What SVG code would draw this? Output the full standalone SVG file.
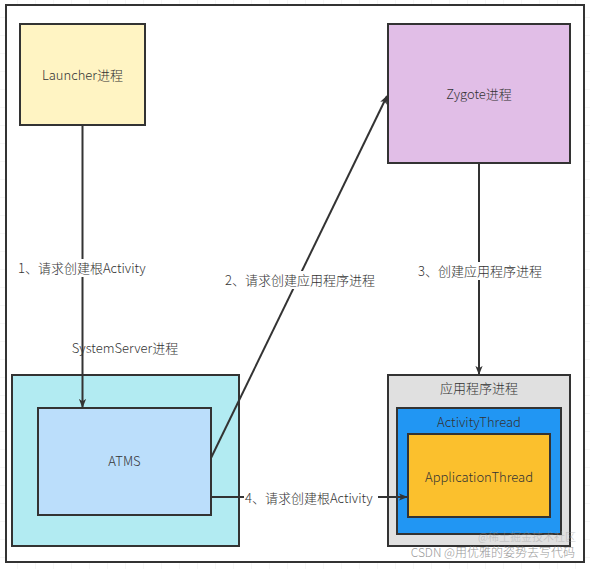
<svg xmlns="http://www.w3.org/2000/svg" width="590" height="569" viewBox="0 0 590 569">
<style>
  text { font-family: "Microsoft YaHei", "Noto Sans CJK SC", "Liberation Sans", sans-serif; font-size: 13px; fill: #333; font-weight: 300; }
  .box { stroke: #333; stroke-width: 2; }
  .edge { stroke: #333; stroke-width: 2; fill: none; }
  .lbl { text-anchor: middle; dominant-baseline: central; }
  .bg { fill: #fff; }
  .wm { fill: #999; font-size: 12px; text-anchor: end; }
</style>
<defs>
  <marker id="arr" viewBox="0 0 10 10" refX="9" refY="5" markerWidth="9" markerHeight="9" markerUnits="userSpaceOnUse" orient="auto">
    <path d="M0,1 L10,5 L0,9 L2.5,5 Z" fill="#333"/>
  </marker>
  <pattern id="grid" width="18" height="18" patternUnits="userSpaceOnUse">
    <path d="M18 0 V18 M0 18 H18" stroke="#ececec" stroke-width="1" fill="none"/>
  </pattern>
</defs>
<rect width="590" height="569" fill="#fff"/>
<rect width="590" height="569" fill="url(#grid)"/>
<rect x="6" y="5" width="578" height="557" fill="#fff" stroke="#333" stroke-width="2"/>

<g id="launcher">
  <rect class="box" x="20" y="24" width="125" height="101" fill="#fff4c3"/>
  <text class="lbl" x="82.5" y="74.5">Launcher进程</text>
</g>
<g id="zygote">
  <rect class="box" x="388" y="24" width="182" height="139" fill="#e1bee7"/>
  <text class="lbl" x="479" y="93.5">Zygote进程</text>
</g>
<g id="systemserver">
  <rect class="box" x="12" y="375" width="227" height="171" fill="#b2ebf2"/>
</g>
<g id="atms">
  <rect class="box" x="38" y="408" width="173" height="107" fill="#bbdefb"/>
  <text class="lbl" x="124.5" y="460.5">ATMS</text>
</g>
<g id="appprocess">
  <rect class="box" x="388" y="375" width="182" height="171" fill="#e0e0e0"/>
  <text class="lbl" x="479" y="387.5">应用程序进程</text>
</g>
<g id="activitythread">
  <rect class="box" x="397" y="408" width="164" height="126" fill="#2196f3"/>
  <text class="lbl" x="479" y="421.5">ActivityThread</text>
</g>
<g id="applicationthread">
  <rect class="box" x="408" y="434" width="142" height="83" fill="#fbc02d"/>
  <text class="lbl" x="479" y="476.5">ApplicationThread</text>
</g>

<g id="connectors">
  <line class="edge" x1="82.5" y1="125" x2="82.5" y2="407" marker-end="url(#arr)"/>
  <line class="edge" x1="211" y1="458" x2="387" y2="96" marker-end="url(#arr)"/>
  <line class="edge" x1="479" y1="163" x2="479" y2="374" marker-end="url(#arr)"/>
  <line class="edge" x1="211" y1="497" x2="407" y2="497" marker-end="url(#arr)"/>
  <rect class="bg" x="17" y="259" width="133" height="18"/>
  <text x="18" y="267.5" dominant-baseline="central">1、请求创建根Activity</text>
  <text class="lbl" x="125" y="347.5">SystemServer进程</text>
  <rect class="bg" x="224" y="271" width="153" height="18"/>
  <text x="225" y="279.5" dominant-baseline="central">2、请求创建应用程序进程</text>
  <rect class="bg" x="417" y="262" width="125" height="18"/>
  <text x="418" y="270.5" dominant-baseline="central">3、创建应用程序进程</text>
  <rect class="bg" x="244" y="489" width="134" height="18"/>
  <text x="245" y="497.5" dominant-baseline="central">4、请求创建根Activity</text>
</g>
<text class="wm" x="576" y="541" style="opacity:0.5;font-size:11px">@稀土掘金技术社区</text>
<text class="wm" x="575" y="557">CSDN @用优雅的姿势去写代码</text>
</svg>
